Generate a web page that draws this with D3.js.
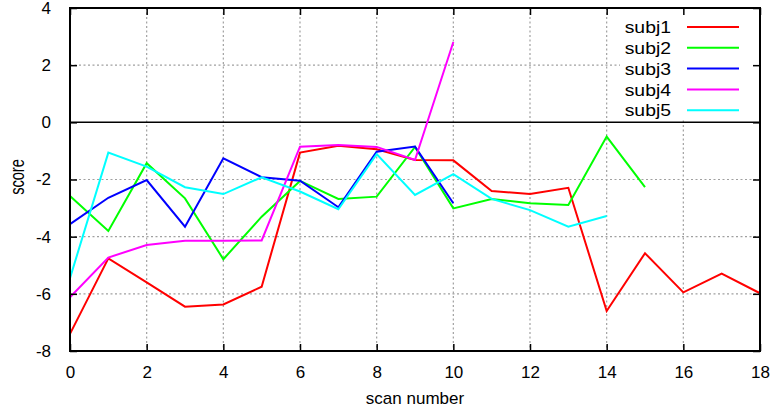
<!DOCTYPE html>
<html>
<head>
<meta charset="utf-8">
<script src="https://cdn.jsdelivr.net/npm/d3@7"></script>
<style>
  html, body { margin: 0; padding: 0; background: #fff; }
  svg { display: block; }
  text { font-family: "Liberation Sans", Arial, sans-serif; fill: #000; }
</style>
</head>
<body>
<svg id="chart" width="774" height="414"></svg>
<script>
// Scan-by-scan scores for each subject
const scans = d3.range(0, 19);
const subj1 = [-7.4, -4.76, -5.6, -6.45, -6.37, -5.75, -1.06, -0.82, -0.94, -1.32, -1.33, -2.4, -2.51, -2.29, -6.6, -4.58, -5.95, -5.29, -5.98];
const subj2 = [-2.58, -3.8, -1.43, -2.66, -4.79, -3.3, -2.05, -2.68, -2.6, -0.86, -3.01, -2.68, -2.83, -2.89, -0.5, -2.27];
const subj3 = [-3.56, -2.64, -2.02, -3.65, -1.26, -1.92, -2.04, -2.97, -1.03, -0.85, -2.83];
const subj4 = [-6.12, -4.73, -4.29, -4.14, -4.14, -4.13, -0.85, -0.79, -0.86, -1.32, 2.81];
const subj5 = [-5.45, -1.06, -1.55, -2.27, -2.51, -1.92, -2.42, -3.04, -1.11, -2.54, -1.81, -2.68, -3.07, -3.65, -3.28];

const seriesNames = ["subj1", "subj2", "subj3", "subj4", "subj5"];
const seriesValues = [subj1, subj2, subj3, subj4, subj5];
const seriesColors = ["#ff0000", "#00ff00", "#0000ff", "#ff00ff", "#00ffff"];

const xTicks = [0, 2, 4, 6, 8, 10, 12, 14, 16, 18];
const yTicks = [-8, -6, -4, -2, 0, 2, 4];

const svg = d3.select("#chart");
const plotL = 70, plotR = 760, plotT = 8, plotB = 351;

const x = d3.scaleLinear().domain([0, 18]).range([plotL, plotR]);
const y = d3.scaleLinear().domain([-8, 4]).range([plotB, plotT]);

// dotted grid
const grid = svg.append("g").attr("stroke", "#a0a0a0").attr("stroke-width", 1.2)
  .attr("stroke-dasharray", "2,2.5");
grid.selectAll("line.v").data(xTicks.filter(d => d > 0 && d < 18)).join("line")
  .attr("x1", d => x(d)).attr("x2", d => x(d)).attr("y1", plotT).attr("y2", plotB);
grid.selectAll("line.h").data(yTicks.filter(d => d > -8 && d < 4 && d !== 0)).join("line")
  .attr("x1", plotL).attr("x2", plotR).attr("y1", d => y(d)).attr("y2", d => y(d));

// zero axis
svg.append("line").attr("x1", plotL).attr("x2", plotR)
  .attr("y1", y(0)).attr("y2", y(0)).attr("stroke", "#000").attr("stroke-width", 1.5);

// series lines
const line = d3.line().x((d, i) => x(scans[i])).y(d => y(d));
const lines = svg.append("g").attr("fill", "none").attr("stroke-width", 2)
  .attr("stroke-linejoin", "miter");
seriesValues.forEach((vals, k) => {
  lines.append("path").datum(vals).attr("d", line).attr("stroke", seriesColors[k]);
});

// key with opaque background
const keyG = svg.append("g");
keyG.append("rect").attr("x", 620).attr("y", plotT + 1).attr("width", plotR - 621).attr("height", 110)
  .attr("fill", "#fff");
seriesNames.forEach((name, k) => {
  const cy = 27 + k * 20.8;
  keyG.append("text").attr("transform", `translate(671,${cy}) scale(1.14,1)`).attr("dy", "0.36em")
    .attr("text-anchor", "end").attr("font-size", 17).text(name);
  keyG.append("line").attr("x1", 687).attr("x2", 739).attr("y1", cy).attr("y2", cy)
    .attr("stroke", seriesColors[k]).attr("stroke-width", 2);
});

// axes with inward ticks on all sides
const tickLen = 7;
const fmt = d => String(d);
const bottomAxis = d3.axisBottom(x).tickValues(xTicks).tickSize(-tickLen).tickPadding(15).tickFormat(fmt);
const topAxis = d3.axisTop(x).tickValues(xTicks).tickSize(-tickLen).tickFormat("");
const leftAxis = d3.axisLeft(y).tickValues(yTicks).tickSize(-tickLen).tickPadding(19).tickFormat(fmt);
const rightAxis = d3.axisRight(y).tickValues(yTicks).tickSize(-tickLen).tickFormat("");

function styleAxis(g) {
  g.select(".domain").remove();
  g.selectAll(".tick line").attr("stroke", "#000").attr("stroke-width", 1.5);
  g.selectAll(".tick text").attr("font-size", 17).attr("font-family", "Liberation Sans, Arial, sans-serif");
}
svg.append("g").attr("transform", `translate(0,${plotB})`).call(bottomAxis).call(styleAxis);
svg.append("g").attr("transform", `translate(0,${plotT})`).call(topAxis).call(styleAxis);
svg.append("g").attr("transform", `translate(${plotL},0)`).call(leftAxis).call(styleAxis);
svg.append("g").attr("transform", `translate(${plotR},0)`).call(rightAxis).call(styleAxis);

// frame
svg.append("rect").attr("x", plotL).attr("y", plotT).attr("width", plotR - plotL).attr("height", plotB - plotT)
  .attr("fill", "none").attr("stroke", "#000").attr("stroke-width", 2);

// axis titles
svg.append("text").attr("x", 415).attr("y", 404).attr("text-anchor", "middle")
  .attr("font-size", 17).text("scan number");
svg.append("text").attr("transform", `translate(24,177) rotate(-90) scale(0.86,1.2)`)
  .attr("text-anchor", "middle").attr("font-size", 17).text("score");
</script>
</body>
</html>
